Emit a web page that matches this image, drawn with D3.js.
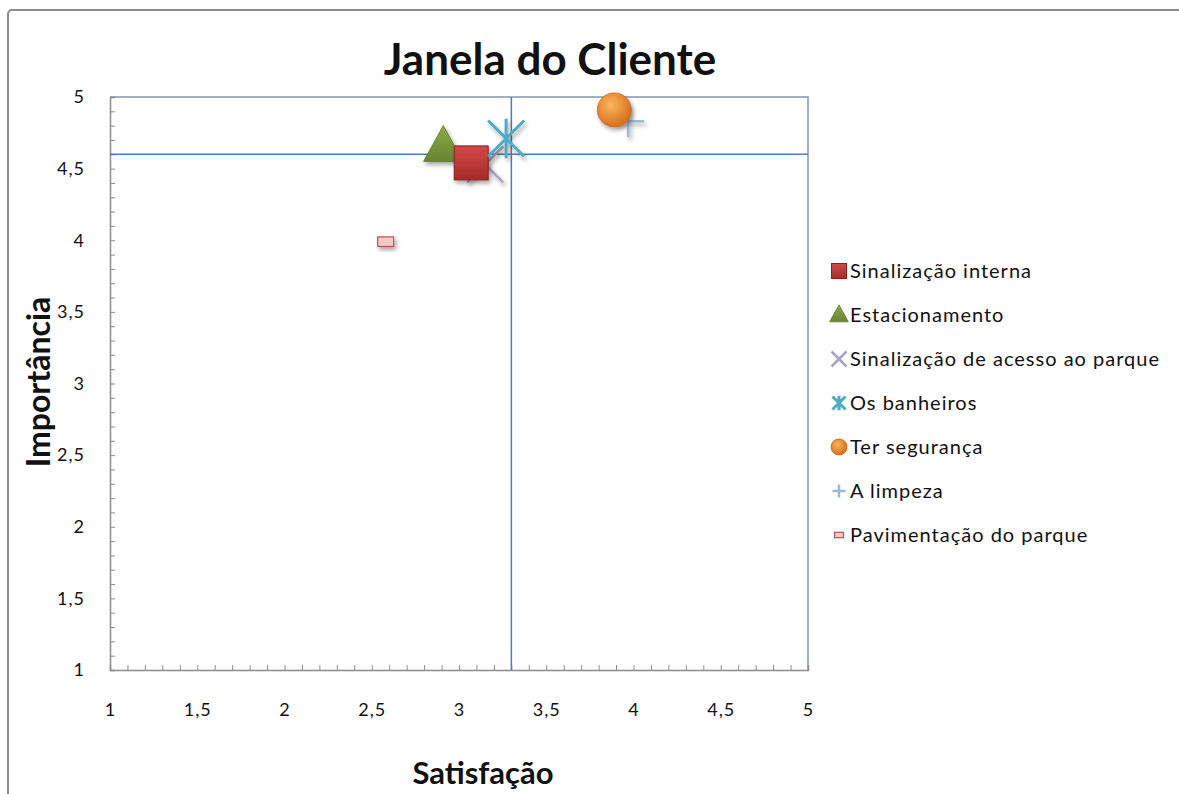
<!DOCTYPE html>
<html>
<head>
<meta charset="utf-8">
<script src="https://cdn.jsdelivr.net/npm/d3@7"></script>
<style>
  body { margin: 0; background: #fff; }
  text { font-family: Lato, "Open Sans", sans-serif; fill: #111; }
</style>
</head>
<body>
<div id="chart"></div>
<script>
// series names, satisfaction (x) and importance (y)
var names = ["Sinalização interna", "Estacionamento", "Sinalização de acesso ao parque",
             "Os banheiros", "Ter segurança", "A limpeza", "Pavimentação do parque"];
var satisfacao = [3.07, 2.91, 3.15, 3.27, 3.89, 3.97, 2.58];
var importancia = [4.54, 4.65, 4.53, 4.71, 4.91, 4.83, 3.99];
var symbols = ["square", "triangle", "x", "star", "circle", "plus", "dash"];
var colors = ["#b8312f", "#77933c", "#a9a3c6", "#4bacc6", "#f08a24", "#9fb8d8", "#d98a8a"];

// reference lines (means)
var refX = 3.3;
var refY = 4.6;

var xTicks = [1, 1.5, 2, 2.5, 3, 3.5, 4, 4.5, 5];
var yTicks = [1, 1.5, 2, 2.5, 3, 3.5, 4, 4.5, 5];

var W = 1179, H = 794;
var margin = {top: 97, left: 110, right: W - 808, bottom: H - 670};
var width = W - margin.left - margin.right,
    height = H - margin.top - margin.bottom;

var svg = d3.select("#chart").append("svg")
  .attr("width", W).attr("height", H);

var defs = svg.append("defs");
var shadow = defs.append("filter").attr("id", "shadow")
  .attr("x", "-50%").attr("y", "-50%").attr("width", "200%").attr("height", "200%");
shadow.append("feDropShadow").attr("dx", 2).attr("dy", 3).attr("stdDeviation", 2)
  .attr("flood-color", "#000").attr("flood-opacity", 0.35);

var gr = defs.append("radialGradient").attr("id", "orangeGrad")
  .attr("cx", "40%").attr("cy", "35%").attr("r", "65%");
gr.append("stop").attr("offset", "0%").attr("stop-color", "#fbb45e");
gr.append("stop").attr("offset", "100%").attr("stop-color", "#d7701a");

var sq = defs.append("linearGradient").attr("id", "redGrad")
  .attr("x1", 0).attr("y1", 0).attr("x2", 0).attr("y2", 1);
sq.append("stop").attr("offset", "0%").attr("stop-color", "#d04a47");
sq.append("stop").attr("offset", "100%").attr("stop-color", "#a72a28");

var tr = defs.append("linearGradient").attr("id", "greenGrad")
  .attr("x1", 0).attr("y1", 0).attr("x2", 0).attr("y2", 1);
tr.append("stop").attr("offset", "0%").attr("stop-color", "#8aab4a");
tr.append("stop").attr("offset", "100%").attr("stop-color", "#67842f");

// outer chart frame
svg.append("rect")
  .attr("x", 8).attr("y", 10).attr("width", W + 20).attr("height", H + 20)
  .attr("rx", 4).attr("fill", "none").attr("stroke", "#8c8c8c").attr("stroke-width", 2);

var g = svg.append("g")
  .attr("transform", "translate(" + margin.left + "," + margin.top + ")");

var x = d3.scaleLinear().domain([1, 5]).range([0, width]);
var y = d3.scaleLinear().domain([1, 5]).range([height, 0]);

// plot area border (top/right)
g.append("path")
  .attr("d", "M0,0H" + width + "V" + height)
  .attr("fill", "none").attr("stroke", "#8596aa").attr("stroke-width", 1.5);

var fmt = function(d) { return String(d).replace(".", ","); };

// minor ticks
var xAxisMinor = g.append("g").attr("transform", "translate(0," + height + ")")
  .call(d3.axisBottom(x).tickValues(d3.range(10, 51).map(function(d) { return d / 10; }))
    .tickSize(-5).tickFormat(""));
var yAxisMinor = g.append("g")
  .call(d3.axisLeft(y).tickValues(d3.range(10, 51).map(function(d) { return d / 10; }))
    .tickSize(-5).tickFormat(""));
[xAxisMinor, yAxisMinor].forEach(function(a) {
  a.selectAll("line").attr("stroke", "#8c8c8c");
  a.select(".domain").attr("stroke", "#8c8c8c").attr("stroke-width", 1.5);
});

// major labels
var xAxis = g.append("g").attr("transform", "translate(0," + height + ")")
  .call(d3.axisBottom(x).tickValues(xTicks).tickSize(0).tickPadding(33).tickFormat(fmt));
var yAxis = g.append("g")
  .call(d3.axisLeft(y).tickValues(yTicks).tickSize(0).tickPadding(25).tickFormat(fmt));
[xAxis, yAxis].forEach(function(a) {
  a.select(".domain").remove();
  a.selectAll("text").style("font-size", "18px").style("letter-spacing", "1px").attr("fill", "#111")
    .style("font-family", "Lato, 'Open Sans', sans-serif");
});

// reference lines
g.append("line")
  .attr("x1", x(refX)).attr("x2", x(refX)).attr("y1", 0).attr("y2", height)
  .attr("stroke", "#4a7eb5").attr("stroke-width", 1.5);
g.append("line")
  .attr("x1", 0).attr("x2", width).attr("y1", y(refY)).attr("y2", y(refY))
  .attr("stroke", "#4a7eb5").attr("stroke-width", 1.5);

// draw a marker of the given kind centered at 0,0
function drawMarker(sel, kind, color, s) {
  if (kind == "square") {
    sel.append("rect").attr("x", -s / 2).attr("y", -s / 2).attr("width", s).attr("height", s)
      .attr("fill", "url(#redGrad)").attr("stroke", "#8a1f1d").attr("stroke-width", 1);
  } else if (kind == "triangle") {
    sel.append("path").attr("d", "M0," + (-s * 0.6) + "L" + (s * 0.55) + "," + (s * 0.4) + "L" + (-s * 0.55) + "," + (s * 0.4) + "Z")
      .attr("fill", "url(#greenGrad)").attr("stroke", "#5e7a2a").attr("stroke-width", 0.8);
  } else if (kind == "x") {
    var h = s / 2;
    sel.append("path").attr("d", "M" + (-h) + "," + (-h) + "L" + h + "," + h + "M" + (-h) + "," + h + "L" + h + "," + (-h))
      .attr("stroke", color).attr("stroke-width", 2.5).attr("fill", "none");
  } else if (kind == "star") {
    var h2 = s / 2;
    sel.append("path").attr("d", "M" + (-h2) + "," + (-h2) + "L" + h2 + "," + h2 + "M" + (-h2) + "," + h2 + "L" + h2 + "," + (-h2) + "M0," + (-h2 * 1.1) + "V" + (h2 * 1.1))
      .attr("stroke", color).attr("stroke-width", 3).attr("fill", "none");
  } else if (kind == "circle") {
    sel.append("circle").attr("r", s / 2)
      .attr("fill", "url(#orangeGrad)").attr("stroke", "#c7661a").attr("stroke-width", 0.8);
  } else if (kind == "plus") {
    var h3 = s / 2;
    sel.append("path").attr("d", "M" + (-h3) + ",0H" + h3 + "M0," + (-h3) + "V" + h3)
      .attr("stroke", color).attr("stroke-width", 2.5).attr("fill", "none");
  } else if (kind == "dash") {
    sel.append("rect").attr("x", -s / 2).attr("y", -s * 0.3).attr("width", s).attr("height", s * 0.6)
      .attr("fill", "#f1c9c7").attr("stroke", "#c0504d").attr("stroke-width", 1.2);
  }
}

var plotSizes = [34, 36, 36, 36, 34, 32, 16];
var order = [5, 1, 2, 0, 3, 4, 6];
order.forEach(function(i) {
  var m = g.append("g")
    .attr("transform", "translate(" + x(satisfacao[i]) + "," + y(importancia[i]) + ")")
    .attr("filter", "url(#shadow)");
  drawMarker(m, symbols[i], colors[i], plotSizes[i]);
});

// legend
var legend = svg.append("g").attr("transform", "translate(839,271)");
var legendSizes = [15, 17, 15, 13, 16, 13, 9];
names.forEach(function(n, i) {
  var item = legend.append("g").attr("transform", "translate(0," + (i * 44) + ")");
  drawMarker(item, symbols[i], colors[i], legendSizes[i]);
  item.append("text").attr("x", 11).attr("y", 7).style("font-size", "20px")
    .style("letter-spacing", "1px").text(n);
});

// titles
svg.append("text").attr("x", 550).attr("y", 75).attr("text-anchor", "middle")
  .style("font-size", "44px").style("font-weight", "bold").text("Janela do Cliente");
svg.append("text").attr("x", 483).attr("y", 784).attr("text-anchor", "middle")
  .style("font-size", "31px").style("font-weight", "bold").text("Satisfação");
svg.append("text").attr("transform", "translate(50,382) rotate(-90)").attr("text-anchor", "middle")
  .style("font-size", "32px").style("font-weight", "bold").text("Importância");
</script>
</body>
</html>
